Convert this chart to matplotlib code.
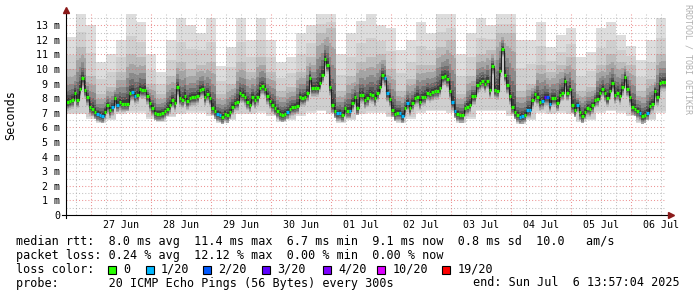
import numpy as np
import pandas as pd
import matplotlib
matplotlib.use("Agg")
import matplotlib.pyplot as plt
import matplotlib.dates as mdates

# median rtt in ms, one value per hour, starting Thu 26 Jun 13:57:04
median = [
    7.74, 7.80, 7.88, 8.36, 7.90, 8.63, 9.36, 8.58, 8.06, 7.40,
    7.26, 7.05, 6.92, 6.87, 6.80, 7.08, 7.51, 7.17, 7.38, 7.99,
    7.56, 7.72, 7.62, 7.62, 7.62, 8.33, 8.40, 8.15, 8.22, 8.61,
    8.54, 8.58, 8.13, 7.65, 7.33, 6.99, 6.92, 6.92, 6.97, 7.12,
    7.26, 7.51, 7.90, 7.67, 8.74, 8.01, 7.90, 8.13,
    7.79, 7.99, 8.06, 8.06, 8.15, 8.56, 8.63, 8.06, 8.29, 8.01,
    7.35, 7.10, 6.92, 6.87, 6.73, 6.92, 6.83, 7.05, 7.42, 7.67,
    7.72, 8.33, 8.24, 8.06, 7.76, 7.56, 8.06, 7.85, 8.06, 8.68,
    8.81, 8.63, 8.13, 7.83, 7.56, 7.33, 7.14, 6.92, 6.87, 6.92,
    7.08, 7.26, 7.38, 7.42, 7.47, 8.06, 8.01, 8.06,
    8.33, 9.38, 8.68, 8.68, 8.70, 9.04, 9.61, 10.71, 10.27, 8.75,
    7.51, 7.14, 6.97, 6.99, 6.87, 7.33, 7.14, 7.14, 7.67, 8.06,
    7.35, 8.22, 8.22, 7.85, 7.99, 8.29, 8.22, 7.99, 8.36, 8.79,
    9.57, 9.36, 8.33, 7.97, 7.21, 6.92, 7.01, 7.01, 6.78, 7.31,
    7.67, 7.33, 7.69, 8.01, 8.10, 7.76, 8.06, 8.10,
    8.38, 8.29, 8.40, 8.51, 8.51, 8.70, 9.43, 9.50, 9.29, 8.51,
    7.72, 7.14, 6.92, 6.83, 6.83, 7.31, 7.40, 7.56, 8.13, 8.13,
    8.88, 9.04, 9.20, 8.97, 9.20, 8.56, 10.18, 8.56, 8.51, 9.88,
    11.39, 9.59, 8.88, 8.13, 7.42, 7.05, 6.87, 6.73, 6.76, 6.87,
    7.19, 7.19, 7.88, 8.27, 8.10, 7.72, 7.79, 8.06,
    8.06, 7.60, 8.01, 8.01, 7.65, 8.24, 8.38, 9.16, 8.38, 8.66,
    7.51, 7.21, 7.56, 7.03, 6.80, 7.05, 7.33, 7.28, 7.51, 7.90,
    7.97, 8.33, 8.66, 8.33, 8.01, 8.51, 9.02, 8.20, 8.38, 8.15,
    8.75, 9.43, 8.66, 8.06, 7.38, 7.28, 7.14, 7.01, 6.76, 6.83,
    7.01, 7.47, 7.62, 8.51, 8.06, 9.04, 9.11, 9.10,
]

# hours with packet loss (index into median) and lost pings out of 20
loss_idx = [12, 13, 14, 18, 20, 26, 27, 60, 61, 88, 108, 109, 113, 127, 128,
            133, 134, 136, 154, 155, 181, 182, 184, 185, 190, 191, 192, 193,
            204, 229, 232]
loss_cnt = [1, 1, 1, 1, 1, 1, 1, 1, 1, 1, 1, 1, 1, 1, 1,
            1, 1, 1, 1, 1, 1, 1, 1, 1, 1, 3, 2, 1,
            1, 1, 1]

# smoke envelopes, one value per 4 hours
smoke_max = [12.2, 13.8, 13.0, 10.5, 11.0, 12.0, 13.8, 13.2, 11.0, 9.8,
             12.0, 13.5, 13.0, 12.5, 13.5, 10.2, 11.5, 13.5, 12.0, 13.5,
             12.0, 10.5, 10.8, 12.5, 13.0, 13.8, 13.8, 11.0, 12.5, 13.3,
             13.8, 13.0, 12.8, 11.3, 12.0, 13.2, 12.5, 13.8, 13.8, 11.0,
             12.5, 13.5, 13.0, 13.8, 13.8, 12.0, 12.0, 13.2, 11.5, 12.3,
             12.8, 10.8, 11.2, 12.8, 13.2, 12.3, 11.6, 10.6, 12.0, 13.5]
smoke_mid = [10.0, 11.5, 9.5, 8.3, 8.8, 9.8, 11.0, 10.8, 9.0, 8.3,
             9.5, 10.5, 10.0, 10.3, 10.5, 8.3, 9.0, 10.5, 9.8, 10.8,
             9.8, 8.5, 8.8, 9.8, 10.8, 12.5, 12.8, 8.5, 9.5, 10.5,
             10.8, 11.0, 10.0, 8.5, 9.3, 10.3, 10.3, 11.5, 12.0, 8.3,
             9.5, 11.0, 11.3, 12.5, 12.5, 8.5, 9.0, 10.3, 9.8, 10.3,
             10.8, 8.5, 8.8, 10.3, 11.0, 10.5, 10.3, 8.5, 9.3, 11.0]
smoke_min = [6.9, 6.9, 6.6, 6.3, 6.5, 6.9, 7.0, 7.0, 6.6, 6.4,
             6.7, 6.9, 7.0, 7.0, 6.8, 6.3, 6.5, 6.9, 6.9, 7.0,
             6.8, 6.4, 6.5, 6.8, 7.0, 7.1, 6.9, 6.3, 6.5, 6.9,
             7.0, 7.0, 6.7, 6.3, 6.6, 7.0, 7.1, 7.1, 7.0, 6.3,
             6.6, 7.1, 7.1, 7.1, 6.8, 6.2, 6.5, 7.0, 6.9, 7.0,
             6.9, 6.4, 6.5, 7.0, 7.1, 7.0, 6.8, 6.3, 6.5, 7.0]

loss_names = ["0", "1/20", "2/20", "3/20", "4/20", "10/20", "19/20"]
loss_steps = [0, 1, 2, 3, 4, 10, 19]
loss_colors = ["#26ff00", "#00b8ff", "#0059ff", "#5e00ff", "#7e00ff", "#dd00ff", "#ff0000"]

day_labels = ["27 Jun", "28 Jun", "29 Jun", "30 Jun", "01 Jul",
              "02 Jul", "03 Jul", "04 Jul", "05 Jul", "06 Jul"]
y_ticks = list(range(0, 14))

start = pd.Timestamp("2025-06-26 13:57:04")

mono = "DejaVu Sans Mono"
W, H = 697, 297


def fx(x):
    return x / W


def fy(y):
    return 1 - y / H


fig = plt.figure(figsize=(W / 100, H / 100), dpi=100)
fig.patch.set_facecolor("white")
ax = fig.add_axes([fx(66), 82 / H, 600 / W, 201 / H])

n = len(median)
t = mdates.date2num(pd.date_range(start, periods=n + 1, freq="h").to_pydatetime())
med = np.array(median)
med_e = np.append(med, med[-1])


def hourly(arr):
    a = np.repeat(np.array(arr), 4)
    return np.append(a, a[-1])


smax = hourly(smoke_max)
smid = hourly(smoke_mid)
smin = hourly(smoke_min)

# smoke layers, outer (light) to inner (dark)
layers = [
    (smin, smax, "#dddddd"),
    (smin + 0.1, smid + 0.45 * (smax - smid), "#cfcfcf"),
    (np.maximum(smin + 0.15, med_e - 0.6), smid, "#bcbcbc"),
    (med_e - 0.5, med_e + 0.75 * (smid - med_e), "#a5a5a5"),
    (med_e - 0.42, med_e + 0.52 * (smid - med_e), "#8a8a8a"),
    (med_e - 0.33, med_e + 0.34 * (smid - med_e), "#6f6f6f"),
    (med_e - 0.24, med_e + 0.2 * (smid - med_e), "#555555"),
    (med_e - 0.14, med_e + 0.09 * (smid - med_e) + 0.05, "#3c3c3c"),
]
for lo, hi, c in layers:
    ax.fill_between(t, lo, hi, step="post", color=c, lw=0, zorder=1)

# grid
major_c = (0.9, 0.4, 0.4, 0.7)
minor_c = (0.6, 0.6, 0.6, 0.6)
dots = (0, (1, 2))
for v in np.arange(0.5, 13.8, 0.5):
    ax.axhline(v, color=major_c if v % 1 == 0 else minor_c, lw=0.75, ls=dots, zorder=2)
for d in pd.date_range("2025-06-26 18:00", "2025-07-06 12:00", freq="6h"):
    ax.axvline(mdates.date2num(d.to_pydatetime()), color=major_c if d.hour == 0 else minor_c,
               lw=0.75, ls=dots, zorder=2)

# median line with loss colour
ax.plot(t, med_e, drawstyle="steps-post", color="#202020", lw=0.8, zorder=3)
loss = np.zeros(n, dtype=int)
loss[loss_idx] = loss_cnt
seg_colors = [loss_colors[loss_steps.index(v)] for v in loss]
ax.hlines(med, t[:-1], t[1:], colors=seg_colors, lw=2.3, zorder=4)

ax.set_xlim(t[0], t[-1])
ax.set_ylim(0, 13.77)
for s in ax.spines.values():
    s.set_visible(False)

noons = [mdates.date2num((pd.Timestamp("2025-06-27 12:00") + pd.Timedelta(days=i)).to_pydatetime())
         for i in range(len(day_labels))]
ax.set_xticks(noons)
ax.set_xticklabels(day_labels, fontfamily=mono, fontsize=7.2)
ax.set_yticks(y_ticks)
ax.set_yticklabels(["0" if v == 0 else f"{v} m" for v in y_ticks], fontfamily=mono, fontsize=7.2)
ax.tick_params(axis="x", length=0, pad=3.4)
ax.tick_params(axis="y", length=0, pad=4.3)

# axis lines with arrows
ax.plot([-0.007, 1.007], [0, 0], transform=ax.transAxes, color="black", lw=0.8, clip_on=False, zorder=5)
ax.plot([0, 0], [-0.015, 1.01], transform=ax.transAxes, color="black", lw=0.8, clip_on=False, zorder=5)
ax.plot([1.009], [0], marker=">", ms=4, color="#8b1a1a", transform=ax.transAxes, clip_on=False, zorder=6)
ax.plot([0], [1.018], marker="^", ms=4, color="#8b1a1a", transform=ax.transAxes, clip_on=False, zorder=6)

fig.text(fx(11), fy(115), "Seconds", rotation=90, ha="center", va="center", fontfamily=mono, fontsize=8.5)
fig.text(fx(688), fy(4), "RRDTOOL / TOBI OETIKER", rotation=270, ha="center", va="top",
         fontfamily=mono, fontsize=6, color="#b0b0b0")

# legend
fs = 8.5
fig.text(fx(16), fy(241.5), "median rtt:  8.0 ms avg  11.4 ms max  6.7 ms min  9.1 ms now  0.8 ms sd  10.0   am/s",
         ha="left", va="center", fontfamily=mono, fontsize=fs)
fig.text(fx(16), fy(255.5), "packet loss: 0.24 % avg  12.12 % max  0.00 % min  0.00 % now",
         ha="left", va="center", fontfamily=mono, fontsize=fs)
fig.text(fx(16), fy(269.5), "loss color:", ha="left", va="center", fontfamily=mono, fontsize=fs)
box_x = [108, 145.5, 203, 262, 322.5, 377, 442]
for bx, name, c in zip(box_x, loss_names, loss_colors):
    fig.patches.append(plt.Rectangle((fx(bx), fy(273.5)), 8 / W, 8 / H, transform=fig.transFigure,
                                     facecolor=c, edgecolor="black", lw=0.8))
    fig.text(fx(bx + 15.5), fy(269.5), name, ha="left", va="center", fontfamily=mono, fontsize=fs)
fig.text(fx(16), fy(283), "probe:       20 ICMP Echo Pings (56 Bytes) every 300s",
         ha="left", va="center", fontfamily=mono, fontsize=fs)
fig.text(fx(680), fy(283), "end: Sun Jul  6 13:57:04 2025", ha="right", va="center", fontfamily=mono, fontsize=fs)

fig.savefig("out.png", dpi=100, facecolor="white")
